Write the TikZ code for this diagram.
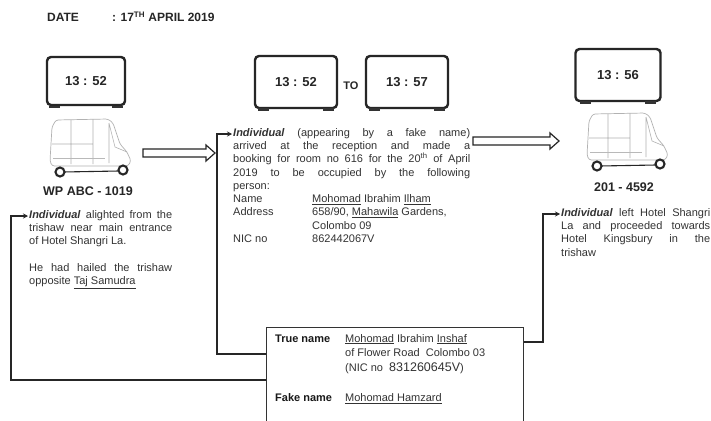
\documentclass[tikz,border=0pt]{standalone}
\usepackage{fontspec}
\setmainfont{Liberation Sans}
\usetikzlibrary{arrows.meta}
\tikzset{
  clock/.style={draw=black!85,line width=2.4pt,rounded corners=4pt,minimum width=80pt,minimum height=50pt,
    font=\fontsize{13}{15}\selectfont\bfseries,text=black!85,inner sep=0pt},
  clockfeet/.pic={
    \fill[black!80] (-37,26) rectangle (-26,28.5);
    \fill[black!80] (26,26) rectangle (37,28.5);
  },
  blockarrow/.style={draw=black!85,line width=1.2pt,fill=white,line join=miter},
  conn/.style={draw=black!85,line width=1.3pt,-{Stealth[length=5pt,width=5pt]}},
  body/.style={inner sep=0pt,align=justify,font=\fontsize{11}{13.3}\selectfont,text=black!80},
  plate/.style={font=\fontsize{12.5}{14}\selectfont\bfseries,text=black!85,inner sep=0pt},
  head/.style={font=\fontsize{12}{13}\selectfont\bfseries,text=black!85,inner sep=0pt,anchor=base west},
  rickshaw/.pic={
    \draw[gray!60,line width=0.7pt,rounded corners=2.5pt]
      (5,10) -- (9,3) -- (61,2) -- (66,6) -- (73,27) -- (80,35) -- (84,44) -- (81,49) -- (5,49) -- (3,44) -- cycle;
    \draw[gray!60,line width=0.6pt] (24,3) -- (24,47) (46,2) -- (46,47) (5,27) -- (46,27)
      (62,6) -- (68,30) -- (80,35) (62,6) -- (62,46);
    \draw[gray!55,line width=0.5pt] (6,41) -- (58,41);
    \draw[black!85,line width=1.1pt] (16,55) -- (72,54);
    \draw[black!85,line width=2.1pt,fill=white] (13,55) circle (4.5);
    \draw[black!85,line width=2.1pt,fill=white] (76,53) circle (4.5);
  }
}
\begin{document}
\begin{tikzpicture}[x=1pt,y=-1pt]
\useasboundingbox (0,0) rectangle (711,420);
\fill[white] (0,0) rectangle (711,420);

% heading
\node[head] (date) at (47,21.5) {DATE};
\node[head] (dval) at (112,21.5) {: 17\textsuperscript{TH} APRIL 2019};

% clocks
\node[clock,minimum width=78pt,minimum height=48pt] (c1) at (86,81) {13 : 52};
\pic[yscale=0.96] at (c1.center) {clockfeet};
\node[clock,minimum width=82pt,minimum height=52pt] (c2) at (296,82) {13 : 52};
\pic[xscale=1.02] at (c2.center) {clockfeet};
\node[font=\fontsize{11}{13}\selectfont\bfseries,text=black!85,inner sep=0pt] (to) at (351,86) {TO};
\node[clock,minimum width=82pt,minimum height=52pt] (c3) at (407,82) {13 : 57};
\pic[xscale=1.02] at (c3.center) {clockfeet};
\node[clock,minimum width=85pt,minimum height=52pt] (c4) at (618,75) {13 : 56};
\pic[xscale=1.04] at (c4.center) {clockfeet};

% rickshaws
\pic at (47,117) {rickshaw};
\pic at (584,111) {rickshaw};
\node[plate] (p1) at (88,191) {WP ABC - 1019};
\node[plate] (p2) at (624,187) {201 - 4592};

% block arrows
\draw[blockarrow] (143,149) -- (206,149) -- (206,145) -- (215,153) -- (206,161) -- (206,157) -- (143,157) -- cycle;
\draw[blockarrow] (473,137) -- (550,137) -- (550,133) -- (559,141) -- (550,149) -- (550,145) -- (473,145) -- cycle;

% left text
\node[body,text width=143pt,anchor=north west] (lt) at (29,210) {%
\textbf{\textit{Individual}} alighted from the\linebreak
trishaw near main entrance\linebreak
of Hotel Shangri La.\par\vskip 13pt
He had hailed the trishaw\linebreak
opposite \underline{Taj Samudra}};

% middle text
\node[body,text width=237pt,anchor=north west] (mt) at (233,128) {%
\textbf{\textit{Individual}} (appearing by a fake name)\linebreak
arrived at the reception and made a\linebreak
{\spaceskip=2.2pt plus 2pt minus 0.5pt booking for room no 616 for the 20\textsuperscript{th} of April}\linebreak
2019 to be occupied by the following\linebreak
person:\par
\makebox[79pt][l]{Name}\underline{Mohomad} Ibrahim \underline{Ilham}\par
\makebox[79pt][l]{Address}658/90, \underline{Mahawila} Gardens,\par
\makebox[79pt][l]{}Colombo 09\par
\makebox[79pt][l]{NIC no}862442067V};

% right text
\node[body,text width=149pt,anchor=north west] (rt) at (561,208) {%
\textbf{\textit{Individual}} left Hotel Shangri\linebreak
La and proceeded towards\linebreak
Hotel Kingsbury in the\linebreak
trishaw};

% true name box
\node[draw=black!80,line width=1.1pt,minimum width=257pt,minimum height=100pt,anchor=north west,inner sep=0pt] (tbox) at (266,327) {};
\node[inner sep=0pt,anchor=north west,align=left,font=\fontsize{11}{14.5}\selectfont,text=black!80] (tb) at (275,334) {%
\makebox[70pt][l]{\textbf{\color{black!90}True name}}\underline{Mohomad} Ibrahim \underline{Inshaf}\\
\hspace*{70pt}of Flower Road\ \ Colombo 03\\
\hspace*{70pt}(NIC no\ \ {\fontsize{12.5}{14.5}\selectfont 831260645V})\\[16pt]
\makebox[70pt][l]{\textbf{\color{black!90}Fake name}}\underline{Mohomad Hamzard}};

% connectors
\coordinate (lj) at (0,380);
\coordinate (la) at (0,216);
\coordinate (mj) at (0,354);
\coordinate (ma) at (0,134);
\coordinate (rj) at (0,342);
\coordinate (ra) at (0,214);
\draw[conn] (tbox.west |- lj) -- (11,380) -- (11,216) -- ([xshift=-1pt]lt.west |- la);
\draw[conn] (tbox.west |- mj) -- (217,354) -- (217,134) -- ([xshift=-1pt]mt.west |- ma);
\draw[conn] (tbox.east |- rj) -- (543,342) -- (543,214) -- ([xshift=-1pt]rt.west |- ra);
\end{tikzpicture}
\end{document}
